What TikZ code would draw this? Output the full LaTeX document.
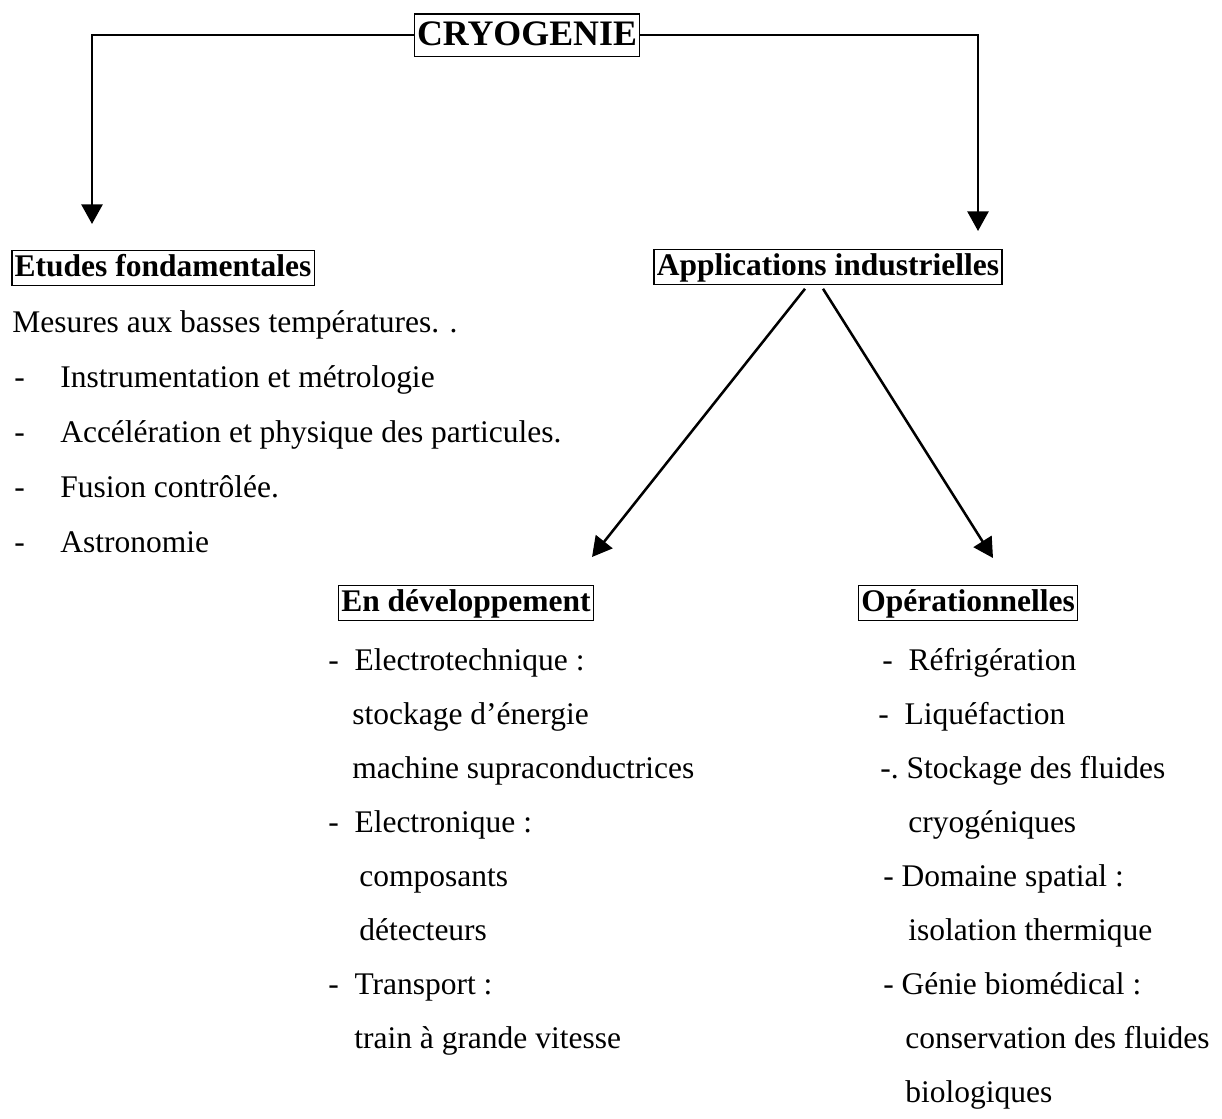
\documentclass[tikz,border=0pt]{standalone}
\usepackage{fontspec}
\setmainfont{Liberation Serif}
\usetikzlibrary{arrows.meta}

\tikzset{
  boxed/.style={draw, line width=0.9pt, inner xsep=2pt, inner ysep=1.5pt,
    text height=16.5pt, text depth=5pt, anchor=base,
    font=\fontsize{22.4}{26}\selectfont\bfseries},
  txt/.style={inner sep=0pt, anchor=base west, font=\fontsize{22.4}{26}\selectfont},
  arr/.style={line width=1.8pt, -{Triangle[width=15pt,length=14pt]}},
}

\begin{document}
\begin{tikzpicture}[x=0.025cm, y=-0.025cm]
  \useasboundingbox (0,0) rectangle (1222,1118);
  % Boxes
  \node[boxed, inner ysep=3pt, text height=19pt, font=\fontsize{25.5}{30}\selectfont\bfseries]
    (cryo) at (527,45) {CRYOGENIE};
  \node[boxed] (etu) at (163,276) {Etudes fondamentales};
  \node[boxed] (app) at (828,275) {Applications industrielles};
  \node[boxed] (dev) at (466,611) {En développement};
  \node[boxed] (ope) at (968,611) {Opérationnelles};
  % Arrow tips
  \coordinate (etutip) at (92,224);
  \coordinate (apptip) at (978,231);
  \coordinate (devtip) at (592,557);
  \coordinate (opetip) at (993,558);
  % Connectors
  \draw[arr] (cryo.west) -| (etutip);
  \draw[arr] (cryo.east) -| (apptip);
  \draw[arr] ([shift={(-23,4)}]app.south) -- (devtip);
  \draw[arr] ([shift={(-5,4)}]app.south) -- (opetip);
  % Etudes fondamentales
  \node[txt] (mes) at (12,332) {Mesures aux basses températures. .};
  \foreach \t [count=\i] in {Instrumentation et métrologie,
      Accélération et physique des particules., Fusion contrôlée., Astronomie}{
    \node[txt] (fd\i) at (14,{332+55*\i}) {-};
    \node[txt] (f\i) at (60,{332+55*\i}) {\t};
  }
  % En developpement
  \foreach \x/\t [count=\i] in {328/{-\ \ Electrotechnique :}, 352/{stockage d’énergie},
      352/{machine supraconductrices}, 328/{-\ \ Electronique :}, 359/{composants},
      359/{détecteurs}, 328/{-\ \ Transport :}, 354/{train à grande vitesse}}
    \node[txt] (dev\i) at (\x,{670+54*(\i-1)}) {\t};
  % Operationnelles
  \foreach \x/\t [count=\i] in {882/{-\ \ Réfrigération}, 878/{-\ \ Liquéfaction},
      880/{-.\ Stockage des fluides}, 908/{cryogéniques}, 883/{-\ Domaine spatial :},
      908/{isolation thermique}, 883/{-\ Génie biomédical :},
      905/{conservation des fluides}, 905/{biologiques}}
    \node[txt] (ope\i) at (\x,{670+54*(\i-1)}) {\t};
\end{tikzpicture}
\end{document}
